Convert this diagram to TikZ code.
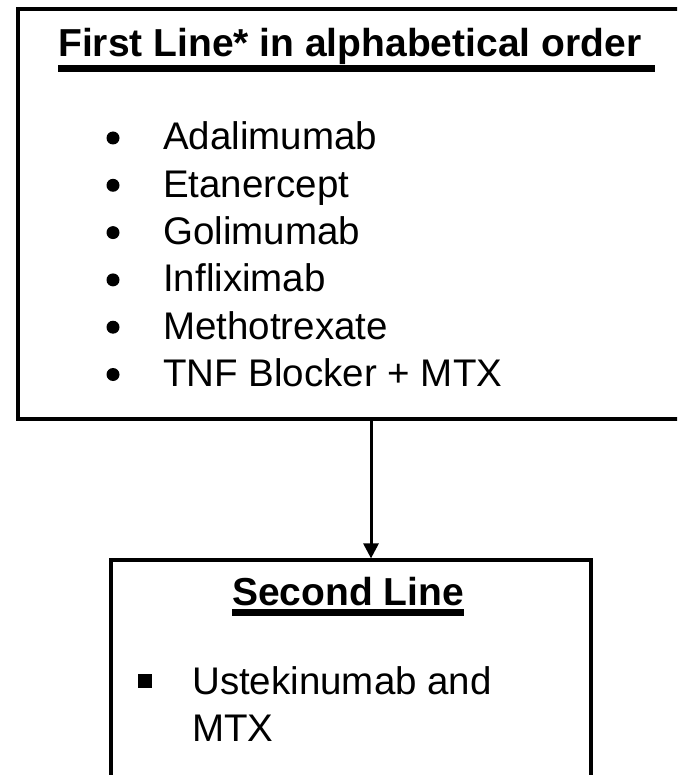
\documentclass[tikz,border=0pt]{standalone}
\usepackage{fontspec}
\setmainfont{Liberation Sans}
\usetikzlibrary{arrows.meta}

\begin{document}
\begin{tikzpicture}[x=1pt,y=-1pt,
    box/.style={draw, line width=3.2pt, inner sep=0pt},
    txt/.style={anchor=base west, inner sep=0pt, font=\fontsize{38.5pt}{46pt}\selectfont},
    head/.style={anchor=base west, inner sep=0pt, font=\fontsize{39pt}{46pt}\selectfont\bfseries}]
    \clip (0,0) rectangle (677,775);
    %\draw[very thin,color=gray] (0,0) grid[step=50] (677,775);
    \node[box, minimum width=690pt, minimum height=410pt] (firstbox) at (363,214) {};
    \node[box, minimum width=480pt, minimum height=260pt] (secondbox) at (351,690) {};

    \node[head] (firsthead) at (58,57) {First Line* in alphabetical order};
    \draw[line width=7pt] ([yshift=-12pt]firsthead.base west) -- ++(597,0);
    \foreach \drug [count=\i] in {Adalimumab, Etanercept, Golimumab, Infliximab, Methotrexate, TNF Blocker + MTX} {
        \node[txt] (drug\i) at (163, 102.7+47.3*\i) {\drug};
        \fill ([xshift=-50pt, yshift=12pt]drug\i.base west) circle (6.5pt);
    }

    \node[head] (secondhead) at (232,605) {Second Line};
    \draw[line width=7pt] ([yshift=-7.5pt]secondhead.base west) -- ([yshift=-7.5pt]secondhead.base east);
    \node[txt] (ustek) at (192,694) {Ustekinumab and};
    \node[txt] (mtx) at (192,741) {MTX};
    \node[fill, minimum size=14pt, inner sep=0pt] (square) at (145,680.5) {};

    \coordinate (arrowx) at (371,0);
    \draw[line width=3pt, -{Triangle[length=15pt,width=15pt]}] (firstbox.south -| arrowx) -- (secondbox.north -| arrowx);
\end{tikzpicture}
\end{document}
